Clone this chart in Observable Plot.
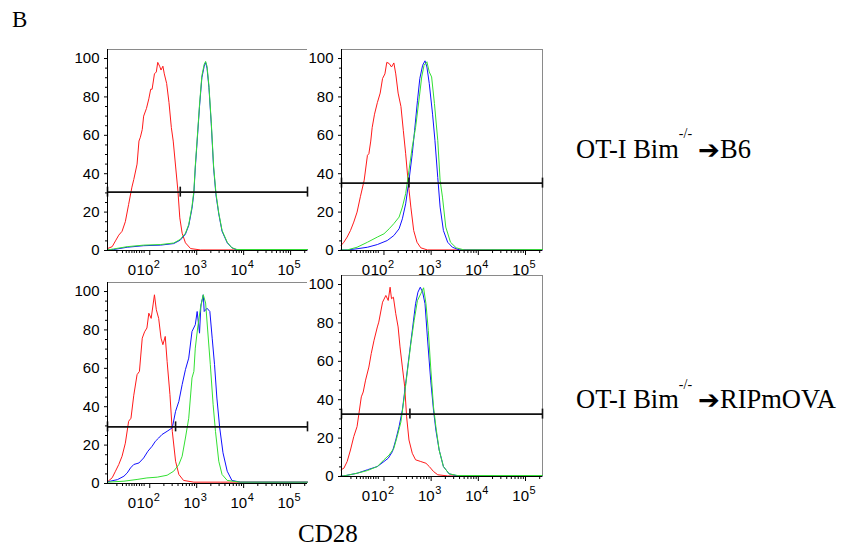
<!DOCTYPE html>
<html>
<head>
<meta charset="utf-8">
<script src="https://cdn.jsdelivr.net/npm/d3@7"></script>
<script src="https://cdn.jsdelivr.net/npm/@observablehq/plot@0.6"></script>
<style>
  html, body { margin: 0; padding: 0; background: #fff; }
  #page { position: relative; width: 851px; height: 548px; overflow: hidden; background: #fff; }
  .panel { position: absolute; }
  #labels { position: absolute; left: 0; top: 0; }
</style>
</head>
<body>
<div id="page">
  <svg id="labels" width="851" height="548" font-family="'Liberation Serif', 'Times New Roman', serif" fill="#000">
    <text x="12" y="27" font-size="23">B</text>
    <text x="576" y="158" font-size="26.5">OT-I Bim<tspan dy="-20" font-size="14">-/-</tspan></text>
    <text x="698" y="159" font-size="26" font-family="'DejaVu Sans', sans-serif" font-weight="bold">➔</text>
    <text x="720" y="158" font-size="26.5">B6</text>
    <text x="576" y="408" font-size="26.5">OT-I Bim<tspan dy="-19" font-size="14">-/-</tspan></text>
    <text x="698" y="409" font-size="26" font-family="'DejaVu Sans', sans-serif" font-weight="bold">➔</text>
    <text x="720" y="408" font-size="26.5">RIPmOVA</text>
    <text x="298" y="542" font-size="25">CD28</text>
  </svg>
</div>
<script>
// ---- axis definitions (display units: decades of CD28 fluorescence) ----
const xDomain = [1.1, 5.36];
const yDomain = [0, 104.7];
const yTicks = [0, 20, 40, 60, 80, 100];
const yMinorTicks = [5, 10, 15, 25, 30, 35, 45, 50, 55, 65, 70, 75, 85, 90, 95];
const xTickU = [1.62, 2, 3, 4, 5];
const xTickBase = ["0", "10", "10", "10", "10"];
const xTickExp = ["", "2", "3", "4", "5"];
const xLinearTicks = [1.3, 1.42, 1.5, 1.56, 1.67, 1.72, 1.78, 1.83, 1.88];

// ---- histograms [display position, % of max] ----
// Panel 1: OT-I Bim-/- -> B6, left
const p1Red = [[1.10,1],[1.20,2],[1.27,5],[1.34,8],[1.41,10],[1.48,15],[1.55,24],[1.62,33],[1.66,37],[1.73,45],[1.77,57],[1.80,59],[1.84,63],[1.87,70],[1.93,74],[1.98,79],[2.02,84],[2.05,84],[2.10,92],[2.14,93],[2.17,98],[2.21,96],[2.24,94],[2.28,96],[2.31,92],[2.36,87],[2.41,77],[2.46,64],[2.50,57],[2.55,44],[2.60,31],[2.64,17],[2.69,9],[2.76,4],[2.87,1],[3.08,0.3],[5.36,0.3]];
const p1Blue = [[1.10,0.3],[1.23,0.5],[1.52,1.7],[1.87,2.5],[2.23,2.8],[2.51,3.6],[2.65,5.4],[2.76,8.5],[2.83,13],[2.90,22],[2.94,30],[2.97,43],[3.01,57],[3.06,75],[3.11,90],[3.16,96],[3.19,98],[3.22,95],[3.26,85],[3.31,66],[3.36,43],[3.41,29],[3.47,19],[3.54,10],[3.65,4],[3.75,1.4],[3.86,0.3],[5.36,0.3]];
const p1Green = [[1.10,0.3],[1.23,0.8],[1.52,2],[1.87,2.8],[2.23,3.1],[2.51,3.9],[2.65,5.8],[2.76,9],[2.83,13.5],[2.90,23],[2.94,31],[2.97,44],[3.01,58],[3.06,76],[3.11,91],[3.16,97],[3.19,98.5],[3.22,96],[3.26,86],[3.31,67],[3.36,44],[3.41,30],[3.47,19.5],[3.54,10.5],[3.65,4.3],[3.75,1.4],[3.86,0.5],[5.36,0.5]];
const p1Gate = 30.4, p1Mid = 2.65;

// Panel 2: OT-I Bim-/- -> B6, right
const p2Red = [[1.09,2.6],[1.15,4.3],[1.22,7],[1.29,10.4],[1.36,14.8],[1.43,20],[1.50,28],[1.58,36.5],[1.65,49.6],[1.68,50.4],[1.72,57],[1.75,64],[1.80,71],[1.86,77],[1.92,82],[1.97,89.6],[2.02,92],[2.06,98],[2.11,97.4],[2.16,95.6],[2.21,97.7],[2.25,92],[2.30,82],[2.36,75],[2.41,62.6],[2.46,50.4],[2.51,36.5],[2.57,22.6],[2.63,10.4],[2.70,4.3],[2.78,1.4],[2.92,0.3],[5.36,0.3]];
const p2Blue = [[1.09,0.3],[1.22,0.3],[1.43,0.9],[1.65,1.7],[1.86,3.1],[2.07,5.2],[2.21,7.8],[2.32,11.3],[2.39,16.5],[2.46,24.3],[2.53,36.5],[2.60,50.4],[2.65,62.6],[2.71,78],[2.76,89.6],[2.82,96.5],[2.87,98.8],[2.91,95.6],[2.96,87],[3.03,71],[3.08,57.4],[3.14,38],[3.19,22.6],[3.26,10.4],[3.35,4.3],[3.45,1.7],[3.60,0.3],[5.36,0.3]];
const p2Green = [[1.09,0.3],[1.22,0.3],[1.43,1.7],[1.65,4.3],[1.86,7],[2.00,8.7],[2.11,11.3],[2.21,14],[2.32,17.4],[2.39,22.6],[2.46,29.6],[2.53,41.7],[2.60,54],[2.67,64],[2.75,80],[2.80,90.4],[2.85,96.5],[2.91,98.3],[2.96,93],[3.01,90.4],[3.07,76.5],[3.14,57.4],[3.19,36.5],[3.24,27.8],[3.31,12.2],[3.41,4.3],[3.53,1.4],[3.70,0.3],[5.36,0.5]];
const p2Gate = 35.1, p2Mid = 2.53;

// Panel 3: OT-I Bim-/- -> RIPmOVA, left
const p3Red = [[1.10,0.9],[1.20,3],[1.27,6.4],[1.34,9.9],[1.41,14.2],[1.48,21],[1.55,32.4],[1.60,34],[1.66,46],[1.73,56.7],[1.78,58.4],[1.84,75.7],[1.89,79],[1.94,81],[1.98,88.7],[2.03,86],[2.07,93],[2.10,98.3],[2.14,90.5],[2.19,86],[2.24,75.7],[2.28,72.3],[2.33,76.6],[2.37,63.6],[2.43,46.3],[2.48,27.2],[2.55,11.6],[2.62,4.7],[2.72,1.6],[2.94,0.7],[3.50,0.7],[5.36,0.7]];
const p3Blue = [[1.10,0.9],[1.31,2],[1.45,3.8],[1.52,5.5],[1.59,8.1],[1.66,9.9],[1.77,10.7],[1.87,13.3],[1.96,16.8],[2.05,19.4],[2.12,22],[2.19,23.7],[2.26,25.5],[2.37,27.2],[2.48,29],[2.55,37.6],[2.62,42.8],[2.69,51.5],[2.76,59.3],[2.83,65.3],[2.90,79.2],[2.97,82.7],[3.01,89.6],[3.06,78.3],[3.09,93],[3.14,98.3],[3.16,89.6],[3.22,91.3],[3.28,89.6],[3.33,75.7],[3.38,61.9],[3.43,44.5],[3.49,29],[3.56,16],[3.65,6.4],[3.75,1.6],[3.93,0.7],[5.36,0.7]];
const p3Green = [[1.10,0.7],[1.45,1.2],[1.73,2.1],[1.94,2.9],[2.16,3.3],[2.37,4.3],[2.51,6.4],[2.62,9.9],[2.69,14.2],[2.76,23.7],[2.83,34],[2.90,55],[2.94,58.4],[2.97,70.5],[3.02,81],[3.08,91.3],[3.14,98.3],[3.19,94],[3.23,81],[3.29,61.9],[3.35,41],[3.40,27.2],[3.47,11.6],[3.54,4.7],[3.65,1.6],[3.93,0.7],[5.36,0.7]];
const p3Gate = 29.5, p3Mid = 2.55;

// Panel 4: OT-I Bim-/- -> RIPmOVA, right
const p4Red = [[1.09,3.5],[1.15,4.3],[1.22,7.8],[1.29,13.8],[1.36,20.8],[1.43,26],[1.47,32.9],[1.52,41.5],[1.56,44],[1.61,50.2],[1.68,57],[1.73,64],[1.79,71],[1.86,77.9],[1.89,80.4],[1.97,90.8],[2.04,94.3],[2.09,91.7],[2.13,98.6],[2.16,92.6],[2.20,93.4],[2.25,84.8],[2.30,77.9],[2.34,67.5],[2.39,57],[2.44,46.7],[2.48,31.1],[2.53,19],[2.60,12.1],[2.67,8.7],[2.78,7.8],[2.89,6.9],[2.96,5.2],[3.05,2.6],[3.14,0.9],[3.35,0.3],[5.36,0.3]];
const p4Blue = [[1.09,0.3],[1.15,0.3],[1.43,1.7],[1.65,3.5],[1.86,5.2],[2.00,7.8],[2.09,9.5],[2.18,13],[2.25,19],[2.32,26],[2.39,34.6],[2.46,48.4],[2.53,62.3],[2.60,76],[2.67,90],[2.72,96],[2.77,98.6],[2.82,96],[2.87,90],[2.92,72.7],[2.99,50.2],[3.05,34.6],[3.10,24.2],[3.17,13.8],[3.26,5.2],[3.38,1.4],[3.56,0.3],[5.36,0.3]];
const p4Green = [[1.09,0.3],[1.15,0.3],[1.43,1.7],[1.65,3.1],[1.86,5.2],[2.00,8.7],[2.11,11.2],[2.21,14.7],[2.28,20.8],[2.36,28.5],[2.43,41.5],[2.50,55.4],[2.57,69.2],[2.64,81.3],[2.71,91.7],[2.78,95.2],[2.84,98.3],[2.89,90],[2.94,76],[2.99,57],[3.05,36.3],[3.10,26],[3.17,13.8],[3.26,5.2],[3.38,1.4],[3.56,0.5],[5.36,0.5]];
const p4Gate = 32.5, p4Mid = 2.55;

const RED = "#ff1a1a", BLUE = "#1010ff", GREEN = "#33e033";

// minor log ticks within each decade
const xMinorTicks = [];
for (let d = 2; d <= 5; d++) for (let k = 2; k <= 9; k++) {
  const v = d + Math.log10(k);
  if (v < xDomain[1]) xMinorTicks.push(v);
}
const xLabels = xTickU.map((u, i) => ({u, base: xTickBase[i], exp: xTickExp[i]}));

const ML = 45, MR = 10, MT = 10, MB = 35, H = 201;
const FS = 15, FSUP = 11;

function panel(red, blue, green, gate, mid, W, left, top, rightBorder) {
  const marks = [
    Plot.ruleY([yDomain[1]], {stroke: "#8a8a8a", strokeWidth: 1}),
    rightBorder ? Plot.ruleX([xDomain[1]], {stroke: "#8a8a8a", strokeWidth: 1}) : null,
    Plot.line(red, {x: d => d[0], y: d => d[1], stroke: RED, strokeWidth: 1}),
    Plot.line(blue, {x: d => d[0], y: d => d[1], stroke: BLUE, strokeWidth: 1}),
    Plot.line(green, {x: d => d[0], y: d => d[1], stroke: GREEN, strokeWidth: 1}),
    Plot.ruleY([gate], {stroke: "#111", strokeWidth: 1.7}),
    Plot.ruleX([xDomain[0], mid, xDomain[1]], {y1: gate - 2.6, y2: gate + 2.6, stroke: "#111", strokeWidth: 1.6}),
    Plot.ruleX([xDomain[0]], {stroke: "#000", strokeWidth: 1}),
    Plot.ruleY([0], {stroke: "#000", strokeWidth: 1}),
    Plot.axisY({ticks: yTicks, tickSize: 3, tickPadding: 5, label: null, fill: "#000", stroke: "#000", fontSize: FS}),
    Plot.axisY({ticks: yMinorTicks, tickSize: 2, fill: "none", label: null, stroke: "#000"}),
    Plot.axisX({ticks: xTickU.slice(1), tickSize: 5, fill: "none", label: null, stroke: "#000"}),
    Plot.axisX({ticks: xMinorTicks.concat(xLinearTicks, [xTickU[0]]), tickSize: 3, fill: "none", label: null, stroke: "#000"}),
    Plot.text(xLabels.filter(d => d.exp === ""), {x: "u", text: "base", frameAnchor: "bottom", lineAnchor: "bottom", dy: 24, textAnchor: "middle", fontSize: FS, fill: "#000"}),
    Plot.text(xLabels.filter(d => d.exp !== ""), {x: "u", text: "base", frameAnchor: "bottom", lineAnchor: "bottom", dy: 24, dx: 3.5, textAnchor: "end", fontSize: FS, fill: "#000"}),
    Plot.text(xLabels.filter(d => d.exp !== ""), {x: "u", text: "exp", frameAnchor: "bottom", lineAnchor: "bottom", dy: 17, dx: 4, textAnchor: "start", fontSize: FSUP, fill: "#000"})
  ].filter(Boolean);
  const chart = Plot.plot({
    width: ML + W + MR,
    height: MT + H + MB,
    marginLeft: ML, marginRight: MR, marginTop: MT, marginBottom: MB,
    x: {domain: xDomain, axis: null},
    y: {domain: yDomain, axis: null},
    style: {background: "transparent", fontFamily: "'Liberation Sans', Arial, sans-serif", fontSize: FS + "px", color: "#000", overflow: "visible"},
    marks
  });
  const div = document.createElement("div");
  div.className = "panel";
  div.style.left = (left - ML) + "px";
  div.style.top = (top - MT) + "px";
  div.appendChild(chart);
  document.getElementById("page").insertBefore(div, document.getElementById("labels"));
}

panel(p1Red, p1Blue, p1Green, p1Gate, p1Mid, 200, 107, 49.3, false);
panel(p2Red, p2Blue, p2Green, p2Gate, p2Mid, 201, 341, 49.3, true);
panel(p3Red, p3Blue, p3Green, p3Gate, p3Mid, 200, 107, 281.7, false);
panel(p4Red, p4Blue, p4Green, p4Gate, p4Mid, 201, 341, 275, true);
</script>
</body>
</html>
